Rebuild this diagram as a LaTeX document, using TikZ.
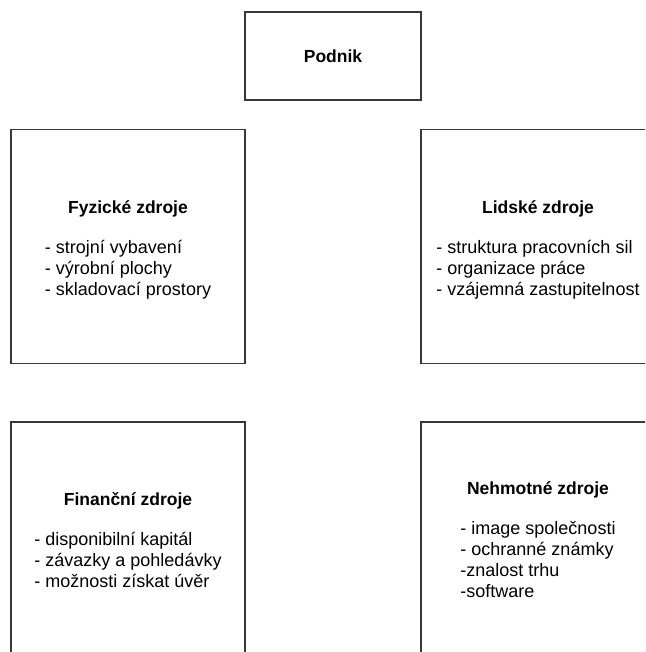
\documentclass[tikz,border=0pt]{standalone}
\usepackage{fontspec}
\setmainfont{Liberation Sans}
\begin{document}
\begin{tikzpicture}[x=1pt,y=-1pt,
  box/.style={draw=black!78,line width=1.4pt,fill=white,inner sep=0pt,
    minimum width=234pt,minimum height=234pt},
  topbox/.style={box,minimum width=176pt,minimum height=88pt},
  content/.style={inner sep=0pt,align=center,
    font=\fontsize{18}{21}\selectfont}]
\useasboundingbox (0,0) rectangle (645,652);
\clip (0,0) rectangle (645,652);
\fill[white] (0,0) rectangle (645,652);
\newcommand{\resitems}[1]{\begin{tabular}{@{}l@{}}#1\end{tabular}}
\newcommand{\reshead}[1]{{\fontsize{17.5}{21}\selectfont\bfseries #1}}

% frames
\node[topbox] (podnik) at (333,56) {};
\node[box] (fyz) at (128,246.5) {};
\node[box] (lid) at (538,246.5) {};
\node[box] (fin) at (128,539) {};
\node[box] (neh) at (538,539) {};

% texts
\node[content] (podnikT) at (podnik.center) {\reshead{Podnik}};

\node[content] (fyzT) at ([yshift=-4.5pt]fyz.center) {\reshead{Fyzické zdroje}\\[21pt]
  \resitems{- strojní vybavení\\- výrobní plochy\\- skladovací prostory}};

\node[content] (lidT) at ([yshift=-4.5pt]lid.center) {\reshead{Lidské zdroje}\\[21pt]
  \resitems{- struktura pracovních sil\\- organizace práce\\- vzájemná zastupitelnost}};

\node[content] (finT) at ([yshift=-4pt]fin.center) {\reshead{Finanční zdroje}\\[21pt]
  \resitems{- disponibilní kapitál\\- závazky a pohledávky\\- možnosti získat úvěr}};

\node[content] (nehT) at ([yshift=-4pt]neh.center) {\reshead{Nehmotné zdroje}\\[21pt]
  \resitems{- image společnosti\\- ochranné známky\\-znalost trhu\\-software}};
\end{tikzpicture}
\end{document}
